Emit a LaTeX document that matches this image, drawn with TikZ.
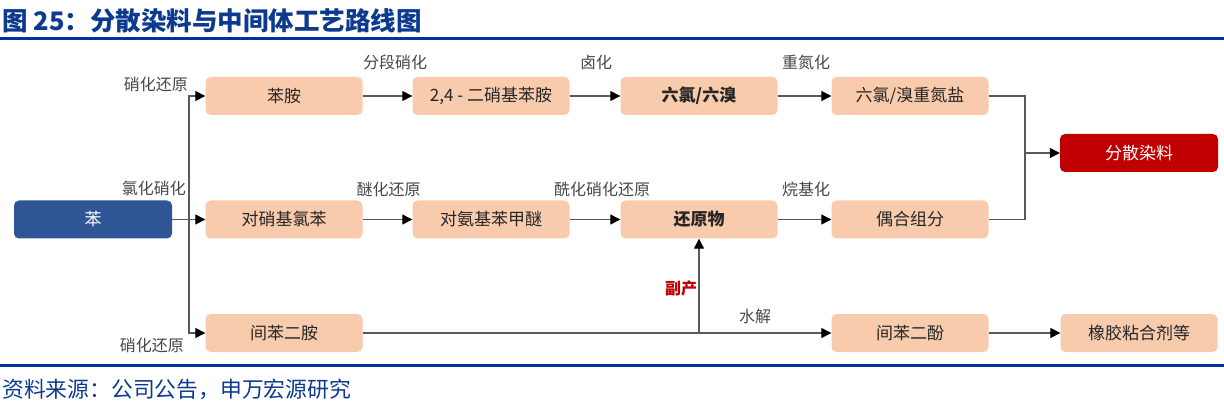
\documentclass[tikz,border=0pt]{standalone}
\usepackage{fontspec}
\setmainfont{Noto Sans CJK SC}
\usetikzlibrary{arrows.meta}
\definecolor{peach}{HTML}{F8CBAD}
\definecolor{benblue}{HTML}{2F5597}
\definecolor{dyered}{HTML}{C00000}
\definecolor{titleblue}{HTML}{0B3A8F}
\definecolor{rule}{HTML}{003399}
\definecolor{linegray}{HTML}{595959}
\definecolor{txt}{HTML}{262626}
\tikzset{
  box/.style={rounded corners=5pt, fill=peach, minimum width=157pt, minimum height=38pt, inner sep=0pt, text=txt, font=\fontsize{17}{20}\selectfont},
  conn/.style={draw=linegray, line width=1.3pt},
  arr/.style={conn, -{Triangle[length=10pt,width=10pt,color=black]}},
  lbl/.style={text=txt!85, inner sep=0pt, font=\fontsize{16}{18}\selectfont}
}
\begin{document}
\begin{tikzpicture}[x=1pt,y=-1pt]
\useasboundingbox (0,0) rectangle (1224,406);
% title and rules
\node[anchor=west, inner sep=0pt, text=titleblue, font=\fontsize{25.5}{28}\selectfont\bfseries] (title) at (2,21) {图 25：分散染料与中间体工艺路线图};
\fill[rule] (0,37.5) rectangle (1224,40.5);
\fill[rule] (0,363.5) rectangle (1224,366.5);
\node[anchor=west, inner sep=0pt, text=titleblue, font=\fontsize{21.8}{24}\selectfont] (src) at (2,389) {资料来源：公司公告，申万宏源研究};
% boxes
\node[box, fill=benblue, text=white, minimum width=158pt] (ben) at (93,219.5) {苯};
\node[box] (a1) at (284,96) {苯胺};
\node[box] (a2) at (491,96) {2,4 - 二硝基苯胺};
\node[box, font=\fontsize{17}{20}\selectfont\bfseries] (a3) at (699,96) {六氯/六溴};
\node[box] (a4) at (910,96) {六氯/溴重氮盐};
\node[box] (b1) at (284,219.5) {对硝基氯苯};
\node[box] (b2) at (491,219.5) {对氨基苯甲醚};
\node[box, font=\fontsize{17}{20}\selectfont\bfseries] (b3) at (699,219.5) {还原物};
\node[box] (b4) at (910,219.5) {偶合组分};
\node[box] (c1) at (284,333) {间苯二胺};
\node[box] (c4) at (910,333) {间苯二酚};
\node[box] (c5) at (1139,333) {橡胶粘合剂等};
\node[box, fill=dyered, text=white, minimum width=158pt] (fs) at (1139,153) {分散染料};
% junctions
\coordinate (j) at (189,219.5);
\coordinate (m) at (1025,153);
\coordinate (b) at (699,333);
% connectors
\draw[conn] (ben.east) -- (j);
\draw[arr] (j) |- (a1);
\draw[arr] (j) -- (b1);
\draw[arr] (j) |- (c1);
\draw[arr] (a1) -- (a2);
\draw[arr] (a2) -- (a3);
\draw[arr] (a3) -- (a4);
\draw[arr] (b1) -- (b2);
\draw[arr] (b2) -- (b3);
\draw[arr] (b3) -- (b4);
\draw[conn] (a4.east) -| (m);
\draw[conn] (b4.east) -| (m);
\draw[arr] (m) -- (fs);
\draw[arr] (c1) -- (c4);
\draw[arr] (b) -- (b3);
\draw[arr] (c4) -- (c5);
% labels
\node[lbl, anchor=east] (l1) at (188,84) {硝化还原};
\node[lbl, anchor=east] (l2) at (186,188) {氯化硝化};
\node[lbl, anchor=east] (l3) at (184,345) {硝化还原};
\node[lbl] (l4) at (395,62.5) {分段硝化};
\node[lbl] (l5) at (596,62.5) {卤化};
\node[lbl] (l6) at (806,62.5) {重氮化};
\node[lbl] (l7) at (388.5,189) {醚化还原};
\node[lbl] (l8) at (602,189) {酰化硝化还原};
\node[lbl] (l9) at (806,189) {烷基化};
\node[lbl] (l10) at (755,316) {水解};
\node[lbl, text=dyered, font=\fontsize{16}{18}\selectfont\bfseries] (l11) at (681,288) {副产};
\end{tikzpicture}
\end{document}
